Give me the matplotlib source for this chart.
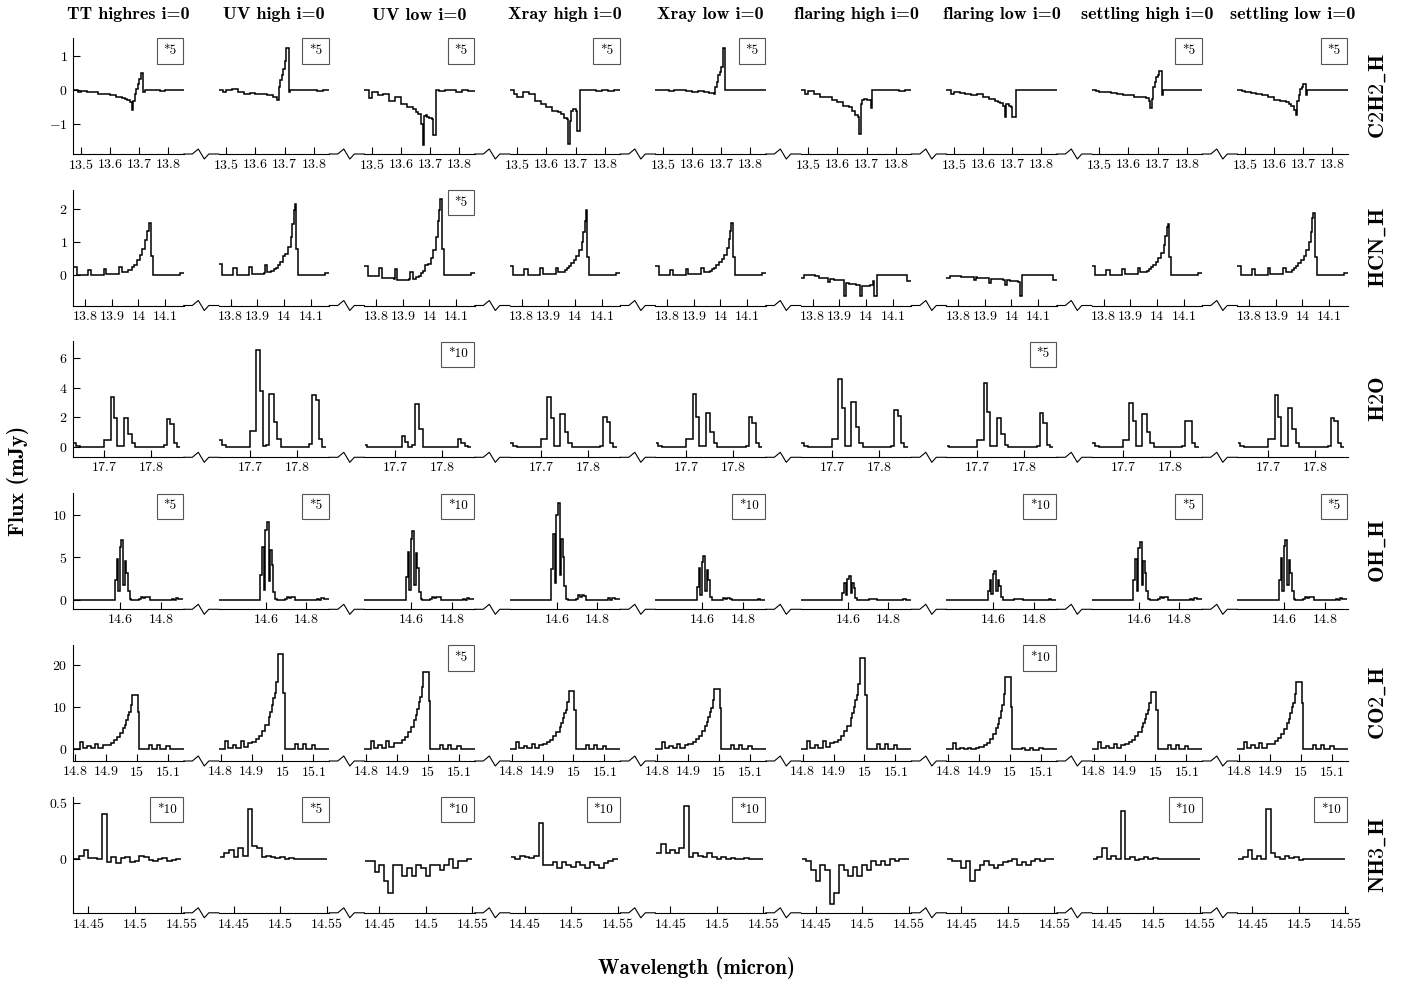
import matplotlib as mpl
mpl.use('Agg')
import matplotlib.pyplot as plt
from matplotlib.lines import Line2D
from matplotlib.ticker import FuncFormatter

plt.rcParams['font.family'] = 'cmr10'
plt.rcParams['mathtext.fontset'] = 'cm'
plt.rcParams['axes.formatter.use_mathtext'] = True

models = ['TT highres i=0', 'UV high i=0', 'UV low i=0', 'Xray high i=0', 'Xray low i=0',
          'flaring high i=0', 'flaring low i=0', 'settling high i=0', 'settling low i=0']
# cmb10 has no underscore glyph, so the row names go through mathtext
species = [r'$\mathbf{C2H2\_H}$', r'$\mathbf{HCN\_H}$', r'$\mathbf{H2O}$', r'$\mathbf{OH\_H}$',
           r'$\mathbf{CO2\_H}$', r'$\mathbf{NH3\_H}$']

# ---- C2H2 ----
c2h2_edges = [13.475, 13.49, 13.50, 13.52, 13.54, 13.56, 13.58, 13.60, 13.62, 13.64, 13.65, 13.66,
              13.67, 13.675, 13.68, 13.685, 13.69, 13.695, 13.70, 13.705, 13.71, 13.715, 13.72,
              13.73, 13.75, 13.77, 13.79, 13.81, 13.83, 13.853]
c2h2_flux = [
    [0.0, -0.04, -0.02, -0.06, -0.05, -0.1, -0.12, -0.13, -0.2, -0.22, -0.25, -0.27, -0.33, -0.57, -0.3,
     -0.1, 0.05, 0.2, 0.34, 0.5, 0.5, -0.05, 0.0, 0.0, 0.01, -0.02, 0.0, 0.0, 0.01],
    [0.0, -0.05, 0.0, 0.05, -0.05, -0.1, -0.08, -0.1, -0.12, -0.15, -0.15, -0.18, -0.2, -0.29, 0.1,
     0.3, 0.44, 0.63, 0.85, 1.26, 1.26, -0.05, 0.0, 0.0, 0.0, 0.02, 0.0, -0.01, 0.0],
    [0.0, -0.22, -0.05, -0.13, -0.1, -0.3, -0.2, -0.4, -0.5, -0.55, -0.65, -0.7, -1.0, -1.6, -0.75,
     -0.72, -0.78, -0.8, -0.8, -0.85, -1.3, -1.3, 0.0, -0.02, 0.0, 0.0, -0.05, 0.0, -0.02],
    [0.0, -0.1, -0.2, -0.05, -0.1, -0.3, -0.4, -0.5, -0.6, -0.65, -0.7, -0.8, -0.85, -1.57, -0.9,
     -0.6, -0.55, -0.55, -0.6, -1.18, -1.18, 0.0, 0.0, 0.0, 0.0, -0.01, 0.0, -0.02, 0.0],
    [0.0, 0.0, 0.02, -0.02, 0.0, 0.02, -0.03, -0.05, -0.03, -0.05, -0.06, -0.08, -0.08, -0.1, 0.1,
     0.25, 0.44, 0.55, 0.68, 1.26, 1.26, 0.0, 0.0, 0.0, 0.0, 0.0, 0.0, 0.0, 0.0],
    [0.0, -0.12, -0.02, -0.12, -0.18, -0.2, -0.28, -0.35, -0.45, -0.5, -0.6, -0.73, -0.78, -1.27, -0.4,
     -0.27, -0.25, -0.25, -0.27, -0.27, -0.27, -0.53, 0.0, 0.0, 0.0, 0.02, 0.0, -0.03, 0.0],
    [0.0, -0.1, -0.05, -0.08, -0.1, -0.15, -0.12, -0.2, -0.25, -0.3, -0.35, -0.38, -0.45, -0.78, -0.4,
     -0.4, -0.45, -0.5, -0.78, -0.78, -0.78, 0.0, 0.0, 0.0, 0.0, 0.0, 0.0, 0.0, 0.0],
    [0.0, -0.03, -0.05, -0.05, -0.08, -0.1, -0.15, -0.15, -0.18, -0.2, -0.2, -0.22, -0.3, -0.53, -0.25,
     0.1, 0.25, 0.4, 0.45, 0.56, 0.56, -0.15, 0.0, 0.0, 0.0, 0.0, 0.0, 0.0, 0.0],
    [0.0, -0.03, -0.05, -0.08, -0.1, -0.15, -0.2, -0.28, -0.3, -0.35, -0.4, -0.45, -0.58, -0.73, -0.3,
     -0.15, 0.05, 0.1, 0.2, 0.2, -0.15, 0.0, 0.0, 0.0, 0.0, 0.0, 0.0, 0.0, 0.0],
]
c2h2_scale = [5, 5, 5, 5, 5, None, None, 5, 5]

# ---- HCN ----
hcn_edges = [13.756, 13.768, 13.810, 13.824, 13.858, 13.866, 13.871, 13.879, 13.917, 13.925, 13.929,
             13.937, 13.950, 13.962, 13.970, 13.977, 13.985, 13.995, 14.005, 14.015, 14.025, 14.031,
             14.036, 14.040, 14.047, 14.054, 14.100, 14.155, 14.170]
hcn_flux = [
    [0.23, 0.0, 0.15, 0.0, 0.0, 0.0, 0.18, 0.01, 0.01, 0.02, 0.23, 0.08, 0.1, 0.14, 0.16, 0.23, 0.3,
     0.44, 0.6, 0.8, 1.05, 1.35, 1.35, 1.58, 0.56, 0.0, 0.0, 0.05],
    [0.34, 0.0, 0.2, 0.0, 0.0, 0.0, 0.24, 0.02, 0.03, 0.04, 0.29, 0.08, 0.12, 0.18, 0.22, 0.29, 0.39,
     0.56, 0.64, 0.85, 1.15, 1.56, 1.99, 2.18, 0.8, 0.0, 0.0, 0.05],
    [0.26, -0.05, 0.2, -0.1, -0.1, -0.12, 0.18, -0.15, -0.15, -0.12, 0.08, -0.12, -0.08, -0.03, 0.05,
     0.13, 0.29, 0.34, 0.5, 0.75, 1.15, 1.66, 1.97, 2.33, 0.8, 0.0, 0.0, 0.05],
    [0.27, 0.0, 0.18, 0.0, 0.0, 0.0, 0.2, 0.01, 0.01, 0.02, 0.22, 0.07, 0.1, 0.15, 0.2, 0.27, 0.35,
     0.45, 0.58, 0.75, 1.0, 1.3, 1.65, 1.98, 0.55, 0.0, 0.0, 0.05],
    [0.27, 0.0, 0.16, 0.0, 0.0, 0.0, 0.18, 0.01, 0.01, 0.02, 0.2, 0.07, 0.09, 0.12, 0.17, 0.22, 0.3,
     0.38, 0.48, 0.62, 0.82, 1.1, 1.35, 1.58, 0.55, 0.0, 0.0, 0.05],
    [-0.1, 0.0, -0.05, -0.1, -0.23, -0.12, -0.12, -0.15, -0.66, -0.25, -0.25, -0.28, -0.28, -0.3, -0.3,
     -0.66, -0.33, -0.33, -0.35, -0.3, -0.18, -0.66, -0.66, 0.0, 0.0, 0.0, 0.0, -0.2],
    [-0.1, -0.03, -0.07, -0.08, -0.15, -0.08, -0.09, -0.1, -0.25, -0.12, -0.12, -0.12, -0.13, -0.14,
     -0.15, -0.3, -0.17, -0.18, -0.19, -0.2, -0.22, -0.65, -0.65, 0.0, 0.0, 0.0, 0.0, -0.15],
    [0.26, 0.0, 0.16, 0.0, 0.0, 0.0, 0.18, 0.01, 0.01, 0.02, 0.2, 0.07, 0.09, 0.13, 0.18, 0.23, 0.3,
     0.4, 0.5, 0.66, 0.9, 1.2, 1.45, 1.56, 0.55, 0.0, 0.0, 0.04],
    [0.27, 0.0, 0.17, 0.0, 0.0, 0.0, 0.2, 0.01, 0.01, 0.02, 0.22, 0.07, 0.1, 0.15, 0.2, 0.28, 0.36,
     0.45, 0.58, 0.75, 1.0, 1.3, 1.75, 1.89, 0.55, 0.0, 0.0, 0.05],
]
hcn_scale = [None, None, 5, None, None, None, None, None, None]

# ---- H2O ----
h2o_edges = [17.635, 17.640, 17.648, 17.700, 17.714, 17.721, 17.728, 17.735, 17.742, 17.751, 17.759,
             17.766, 17.827, 17.834, 17.841, 17.848, 17.855, 17.862]
h2o_flux = [
    [0.23, 0.05, 0.0, 0.45, 3.35, 1.93, 0.03, 0.05, 1.93, 0.86, 0.23, 0.0, 0.1, 1.86, 1.55, 0.23, 0.0],
    [0.45, 0.1, 0.0, 1.1, 6.55, 3.8, 0.02, 0.1, 3.55, 1.65, 0.55, 0.0, 0.2, 3.5, 3.15, 0.55, 0.0],
    [0.1, -0.05, 0.0, 0.0, 0.72, 0.3, 0.0, 0.1, 2.9, 1.2, -0.05, 0.0, 0.0, 0.55, 0.25, 0.05, 0.0],
    [0.23, 0.05, 0.0, 0.5, 3.36, 1.98, 0.03, 0.05, 2.2, 0.98, 0.27, 0.0, 0.05, 2.0, 1.66, 0.27, 0.0],
    [0.23, 0.05, 0.0, 0.5, 3.6, 2.05, 0.03, 0.05, 2.27, 1.02, 0.27, 0.0, 0.05, 2.0, 1.64, 0.27, 0.0],
    [0.23, 0.05, 0.0, 0.52, 4.6, 2.6, 0.03, 0.05, 3.05, 1.32, 0.27, 0.0, 0.05, 2.48, 2.07, 0.27, 0.0],
    [0.05, 0.0, 0.0, 0.45, 4.3, 2.34, 0.03, 0.05, 1.98, 0.86, 0.1, 0.0, 0.05, 2.27, 1.64, 0.1, 0.0],
    [0.23, 0.05, 0.0, 0.45, 3.0, 1.77, 0.03, 0.05, 2.2, 0.98, 0.27, 0.0, 0.05, 1.77, 1.74, 0.27, 0.0],
    [0.23, 0.05, 0.0, 0.5, 3.48, 2.0, 0.03, 0.05, 2.6, 1.18, 0.27, 0.0, 0.05, 1.93, 1.75, 0.27, 0.0],
]
h2o_scale = [None, None, 10, None, None, None, 5, None, None]

# ---- OH ----
oh_edges = [14.37, 14.575, 14.583, 14.591, 14.599, 14.607, 14.615, 14.623, 14.631, 14.639, 14.647,
            14.655, 14.695, 14.705, 14.715, 14.725, 14.735, 14.745, 14.755, 14.855, 14.865, 14.875,
            14.885, 14.91]
oh_flux = [
    [0.0, 2.3, 4.8, 1.0, 6.2, 7.0, 1.75, 4.6, 3.2, 1.0, 0.1, 0.05, 0.1, 0.35, 0.2, 0.4, 0.35, 0.05,
     0.0, 0.15, 0.05, 0.2, 0.1],
    [0.0, 2.9, 6.2, 1.2, 8.2, 9.1, 2.2, 5.9, 4.1, 0.9, 0.1, 0.05, 0.1, 0.35, 0.2, 0.4, 0.35, 0.05,
     0.0, 0.15, 0.05, 0.2, 0.1],
    [0.0, 2.7, 5.6, 1.2, 7.2, 8.1, 1.8, 5.5, 3.8, 0.9, 0.1, 0.05, 0.1, 0.35, 0.2, 0.4, 0.35, 0.05,
     0.0, 0.15, 0.05, 0.2, 0.1],
    [0.0, 3.6, 7.7, 2.0, 10.0, 11.4, 2.9, 7.2, 5.0, 1.6, 0.1, 0.05, 0.15, 0.55, 0.3, 0.6, 0.5, 0.05,
     0.0, 0.2, 0.05, 0.25, 0.1],
    [0.0, 1.5, 3.7, 0.6, 4.5, 5.1, 1.0, 3.5, 2.3, 0.4, 0.05, 0.03, 0.05, 0.2, 0.1, 0.2, 0.15, 0.02,
     0.0, 0.05, 0.02, 0.08, 0.03],
    [0.0, 0.8, 2.0, 0.6, 2.5, 2.85, 0.8, 1.95, 1.4, 0.2, 0.05, 0.02, 0.05, 0.15, 0.08, 0.15, 0.1, 0.02,
     0.0, 0.05, 0.02, 0.06, 0.02],
    [0.0, 1.0, 2.4, 0.7, 3.0, 3.4, 1.0, 2.4, 1.6, 0.3, 0.05, 0.02, 0.05, 0.15, 0.08, 0.15, 0.1, 0.02,
     0.0, 0.05, 0.02, 0.06, 0.02],
    [0.0, 2.3, 4.8, 1.0, 6.1, 6.8, 1.7, 4.6, 3.2, 1.0, 0.1, 0.05, 0.1, 0.35, 0.2, 0.4, 0.35, 0.05,
     0.0, 0.15, 0.05, 0.2, 0.1],
    [0.0, 2.4, 4.9, 1.0, 6.3, 7.0, 1.8, 4.7, 3.2, 1.0, 0.1, 0.05, 0.1, 0.35, 0.2, 0.4, 0.35, 0.05,
     0.0, 0.15, 0.05, 0.2, 0.1],
]
oh_scale = [5, 5, 10, None, 10, None, 10, 5, 5]

# ---- CO2 ----
co2_edges = [14.794, 14.815, 14.825, 14.84, 14.85, 14.865, 14.875, 14.89, 14.90, 14.915, 14.925,
             14.935, 14.945, 14.955, 14.96, 14.965, 14.97, 14.975, 14.98, 14.985, 14.992, 15.002,
             15.008, 15.04, 15.05, 15.065, 15.075, 15.095, 15.105, 15.151]
co2_flux = [
    [0.0, 1.7, 0.2, 0.8, 0.2, 1.2, 0.3, 1.0, 1.0, 1.5, 2.1, 2.9, 3.8, 5.0, 5.8, 6.9, 8.0, 8.8, 10.5,
     12.9, 12.9, 8.8, 0.0, 1.0, 0.1, 1.0, 0.0, 0.8, 0.0],
    [0.0, 2.0, 0.3, 1.0, 0.3, 1.8, 0.4, 1.5, 1.6, 2.3, 3.2, 4.4, 5.8, 7.6, 8.8, 10.5, 12.2, 13.4, 16.0,
     22.6, 22.6, 13.4, 0.0, 1.2, 0.1, 1.2, 0.0, 1.0, 0.0],
    [0.0, 2.0, 0.3, 1.0, 0.3, 1.8, 0.4, 1.4, 1.5, 2.1, 2.9, 4.0, 5.3, 7.0, 8.1, 9.6, 11.2, 12.3, 14.7,
     18.3, 18.3, 11.5, 0.0, 1.0, 0.1, 1.0, 0.0, 0.8, 0.0],
    [0.0, 1.6, 0.2, 0.8, 0.2, 1.2, 0.3, 1.0, 1.1, 1.6, 2.2, 3.1, 4.0, 5.3, 6.2, 7.3, 8.5, 9.4, 11.2,
     13.8, 13.8, 9.4, 0.0, 1.0, 0.1, 1.0, 0.0, 0.8, 0.0],
    [0.0, 1.6, 0.2, 0.8, 0.2, 1.2, 0.3, 1.0, 1.1, 1.7, 2.3, 3.2, 4.2, 5.5, 6.4, 7.6, 8.8, 9.7, 11.6,
     14.3, 14.3, 9.7, 0.0, 1.0, 0.1, 1.0, 0.0, 0.8, 0.0],
    [0.0, 2.0, 0.3, 1.0, 0.3, 1.8, 0.4, 1.5, 1.6, 2.2, 3.1, 4.2, 5.6, 7.3, 8.5, 10.1, 11.7, 12.9, 15.4,
     21.7, 21.7, 12.9, 0.0, 1.2, 0.1, 1.2, 0.0, 1.0, 0.0],
    [0.0, 1.5, 0.0, 0.2, 0.0, 0.3, 0.0, 0.2, 0.5, 1.0, 1.5, 2.5, 3.5, 5.0, 6.0, 7.5, 9.0, 10.5, 13.0,
     17.2, 17.2, 10.0, 0.0, 0.3, -0.2, 0.3, -0.2, 0.2, 0.0],
    [0.0, 1.6, 0.2, 0.8, 0.2, 1.2, 0.3, 1.0, 1.1, 1.6, 2.2, 3.0, 4.0, 5.2, 6.1, 7.2, 8.4, 9.3, 11.0,
     13.6, 13.6, 9.3, 0.0, 1.0, 0.1, 1.0, 0.0, 0.8, 0.0],
    [0.0, 1.7, 0.2, 0.9, 0.2, 1.4, 0.3, 1.2, 1.3, 1.9, 2.6, 3.6, 4.7, 6.2, 7.2, 8.5, 9.9, 10.9, 13.0,
     16.0, 16.0, 10.9, 0.0, 1.0, 0.1, 1.0, 0.0, 0.8, 0.0],
]
co2_scale = [None, None, 5, None, None, None, 10, None, None]

# ---- NH3 ----
nh3_edges = [14.435, 14.44, 14.445, 14.45, 14.455, 14.46, 14.465, 14.47, 14.475, 14.48, 14.485, 14.49,
             14.495, 14.50, 14.505, 14.51, 14.515, 14.52, 14.525, 14.53, 14.535, 14.54, 14.545, 14.55]
nh3_flux = [
    [0.0, 0.03, 0.08, 0.01, 0.01, 0.0, 0.4, -0.03, 0.02, -0.04, 0.01, 0.02, -0.03, -0.02, 0.03, 0.02,
     -0.01, -0.02, 0.0, 0.01, -0.02, -0.01, 0.0],
    [0.02, 0.05, 0.08, 0.02, 0.1, 0.03, 0.45, 0.12, 0.1, 0.02, 0.03, 0.02, 0.01, 0.02, 0.0, 0.01, 0.0,
     0.0, 0.0, 0.0, 0.0, 0.0, 0.0],
    [-0.02, -0.02, -0.12, -0.05, -0.2, -0.3, -0.05, -0.05, -0.15, -0.08, -0.15, -0.05, -0.08, -0.15,
     -0.05, -0.05, -0.1, -0.05, 0.0, -0.08, -0.02, -0.02, 0.0],
    [0.02, 0.0, 0.03, 0.02, 0.01, 0.03, 0.32, -0.05, -0.05, -0.03, -0.08, -0.03, -0.05, -0.07, -0.03,
     -0.05, -0.08, -0.03, -0.05, -0.08, -0.04, -0.02, 0.0],
    [0.05, 0.13, 0.05, 0.08, 0.05, 0.1, 0.47, 0.02, 0.05, 0.03, 0.02, 0.05, 0.02, 0.0, 0.02, 0.0, 0.01,
     0.0, 0.0, 0.01, 0.0, 0.0, 0.0],
    [0.0, -0.02, -0.1, -0.2, -0.05, -0.1, -0.4, -0.3, -0.05, -0.1, -0.15, -0.07, -0.15, -0.05, -0.1,
     -0.02, -0.05, -0.02, -0.05, 0.0, -0.02, 0.0, 0.0],
    [0.0, -0.02, -0.02, -0.08, -0.02, -0.2, -0.1, -0.05, -0.02, -0.05, -0.08, -0.05, -0.03, -0.02, 0.0,
     -0.05, -0.03, -0.05, -0.02, 0.0, -0.02, 0.0, 0.0],
    [0.0, 0.02, 0.1, 0.0, 0.03, 0.0, 0.43, 0.0, 0.02, -0.01, 0.0, 0.02, 0.0, 0.01, 0.0, 0.0, 0.0, 0.0,
     0.0, 0.0, 0.0, 0.0, 0.0],
    [0.0, 0.02, 0.08, 0.0, 0.03, 0.0, 0.45, 0.05, 0.02, 0.0, 0.03, 0.01, 0.02, -0.01, 0.0, 0.0, 0.0,
     0.0, 0.0, 0.0, 0.0, 0.0, 0.0],
]
nh3_scale = [10, 5, 10, 10, 10, None, None, 10, 10]

rows = [
    (c2h2_edges, c2h2_flux, c2h2_scale, (13.4747, 13.853), (-1.87, 1.54), [13.5, 13.6, 13.7, 13.8], [-1, 0, 1]),
    (hcn_edges, hcn_flux, hcn_scale, (13.756, 14.170), (-0.94, 2.61), [13.8, 13.9, 14.0, 14.1], [0, 1, 2]),
    (h2o_edges, h2o_flux, h2o_scale, (17.6336, 17.870), (-0.72, 7.16), [17.7, 17.8], [0, 2, 4, 6]),
    (oh_edges, oh_flux, oh_scale, (14.370, 14.9135), (-1.09, 12.5), [14.6, 14.8], [0, 5, 10]),
    (co2_edges, co2_flux, co2_scale, (14.7945, 15.151), (-2.86, 24.8), [14.8, 14.9, 15.0, 15.1], [0, 10, 20]),
    (nh3_edges, nh3_flux, nh3_scale, (14.434, 14.553), (-0.48, 0.555), [14.45, 14.5, 14.55], [0, 0.5]),
]

# layout in pixels
FW, FH = 1418.0, 985.0
left0, pitch, width, height = 73.3, 145.5, 110.5, 116.0
row_bottom = [154.0, 305.5, 457.3, 609.3, 761.0, 912.8]

fmt = FuncFormatter(lambda v, pos: r'$\mathdefault{%g}$' % v)

fig = plt.figure(figsize=(FW / 100, FH / 100), dpi=100)

for r, (edges, flux, scale, xlim, ylim, xt, yt) in enumerate(rows):
    yb = row_bottom[r]
    for c in range(9):
        x0 = left0 + c * pitch
        ax = fig.add_axes([x0 / FW, 1 - yb / FH, width / FW, height / FH])
        ax.stairs(flux[c], edges, baseline=None, color='k', lw=1.1)
        ax.set_xlim(xlim)
        ax.set_ylim(ylim)
        ax.set_facecolor('none')
        for s in ['top', 'right']:
            ax.spines[s].set_visible(False)
        ax.spines['bottom'].set_linewidth(0.8)
        ax.set_xticks(xt)
        ax.xaxis.set_major_formatter(fmt)
        ax.tick_params(axis='x', direction='in', length=5, width=0.8, labelsize=10, pad=3)
        if c == 0:
            ax.spines['left'].set_linewidth(0.8)
            ax.set_yticks(yt)
            ax.yaxis.set_major_formatter(fmt)
            ax.tick_params(axis='y', direction='in', length=5, width=0.8, labelsize=10, pad=4)
        else:
            ax.spines['left'].set_visible(False)
            ax.set_yticks([])
        if scale[c] is not None:
            ax.text(0.935, 0.94, '*%d' % scale[c], transform=ax.transAxes, ha='right', va='top',
                    fontsize=9.5,
                    bbox=dict(boxstyle='square,pad=0.5', fc='white', ec='#555555', lw=0.8))
        if r == 0:
            fig.text((x0 + width / 2) / FW, 1 - 15 / FH, models[c], ha='center', va='center',
                     fontsize=13, family='cmb10')

        # axis line with break mark into the next panel
        if c < 8:
            gx = x0 + width
            px = [gx, gx + 8.5, gx + 14.5, gx + 20.5, gx + 25.0, gx + 35.0]
            py = [yb, yb, yb - 5, yb + 5, yb, yb]
            fig.add_artist(Line2D([p / FW for p in px], [1 - p / FH for p in py],
                                  transform=fig.transFigure, color='k', lw=0.8))

    fig.text(1378 / FW, 1 - (yb - height / 2) / FH, species[r], rotation=90, ha='center',
             va='center', fontsize=16)

fig.text(18 / FW, 1 - 481 / FH, 'Flux (mJy)', rotation=90, ha='center', va='center',
         fontsize=16, family='cmb10')
fig.text(697 / FW, 1 - 968 / FH, 'Wavelength (micron)', ha='center', va='center',
         fontsize=15, family='cmb10')

fig.savefig('out.png', dpi=100)
